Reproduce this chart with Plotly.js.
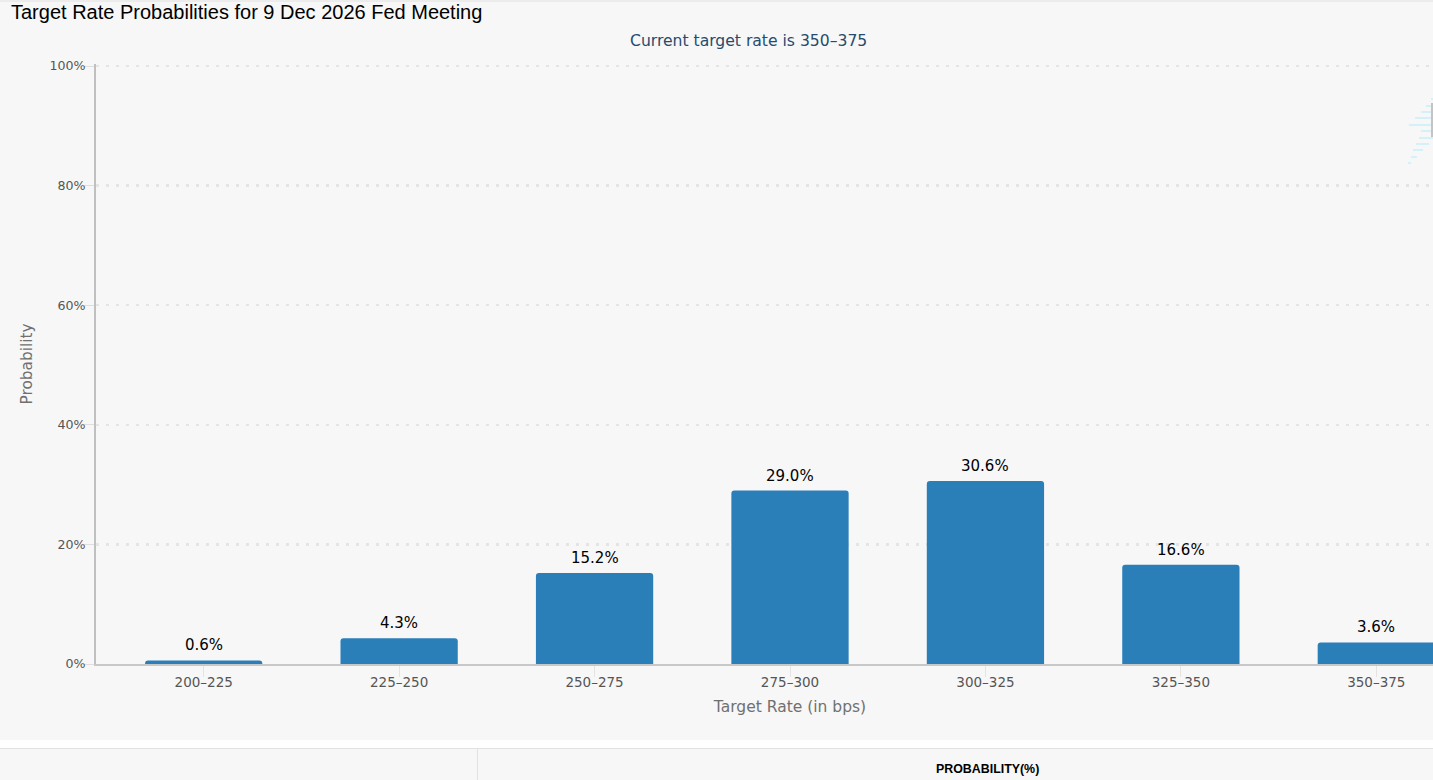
<!DOCTYPE html>
<html><head><meta charset="utf-8">
<script src="https://cdn.plot.ly/plotly-3.0.1.min.js"></script>
<style>html,body{margin:0;padding:0;background:#fff;overflow:hidden;width:1433px;height:780px}#c{width:1500px;height:780px}</style>
</head><body><div id="c"></div>
<script>
const categories = ['200–225','225–250','250–275','275–300','300–325','325–350','350–375'];
const probabilities = [0.6,4.3,15.2,29.0,30.6,16.6,3.6];
const valueLabels = ['0.6%','4.3%','15.2%','29.0%','30.6%','16.6%','3.6%'];
const yTicks = [0,20,40,60,80,100];
const yTickLabels = ['0%','20%','40%','60%','80%','100%'];
const W=1500,H=780,L=96,T=64,PW=1388,PH=600;
const chartFont='"DejaVu Sans", sans-serif';
const sansFont='"Liberation Sans", Arial, sans-serif';
function px(x){return (x-L)/PW}
function py(y){return 1-(y-T)/PH}
function rect(x0,y0,x1,y1,fill,layer){return {type:'rect',xref:'paper',yref:'paper',x0:px(x0),x1:px(x1),y0:py(y1),y1:py(y0),fillcolor:fill,line:{width:0},layer:layer||'below'}}
function vline(x,y0,y1,c){return {type:'line',xref:'paper',yref:'paper',x0:px(x),x1:px(x),y0:py(y0),y1:py(y1),line:{color:c,width:1},layer:'below'}}
function hline(x0,x1,y,c,w){return {type:'line',xref:'paper',yref:'paper',x0:px(x0),x1:px(x1),y0:py(y),y1:py(y),line:{color:c,width:w||1},layer:'below'}}
const shapes=[
  rect(0,2,W,740,'#f7f7f7'),
  rect(0,0,W,2,'#ececec'),
  rect(0,749,W,780,'#f7f7f7'),
  hline(0,W,748.5,'#e2e2e2'),
  vline(477.5,749,780,'#e2e2e2')
];
// faint loading-spinner artefact at the right edge of the screenshot
[[1431,1433,99],[1426,1433,106],[1421,1433,112],[1415,1433,118],[1409,1433,125],[1421,1433,131],
 [1419,1433,138],[1416,1429,144],[1413,1423,150],[1411,1417,157],[1408,1411,163]]
 .forEach(s=>shapes.push(hline(s[0],s[1],s[2],'#d2f1f8',2)));
shapes.push(rect(1431,103,1433,137,'#c4c4c4'));
const trace={type:'bar',x:categories,y:probabilities,width:0.6,
  marker:{color:'#2a7fb8',cornerradius:3,line:{width:0}},
  hoverinfo:'x+y'};
const valueAnn=categories.map((c,i)=>({xref:'x',yref:'y',x:c,y:probabilities[i],yshift:15,xanchor:'center',yanchor:'middle',
  showarrow:false,text:valueLabels[i],font:{family:chartFont,size:15,color:'#000'}}));
const layout={width:W,height:H,autosize:false,
  margin:{l:L,r:W-L-PW,t:T,b:H-T-PH,pad:0},
  paper_bgcolor:'#fff',plot_bgcolor:'rgba(0,0,0,0)',showlegend:false,shapes:shapes,
  font:{family:chartFont},
  xaxis:{type:'category',range:[-0.551,6.551],categoryorder:'array',categoryarray:categories,
    showgrid:false,ticks:'outside',ticklen:11,tickcolor:'#e4e4e4',tickwidth:1,ticklabelstandoff:-6,
    showline:true,linecolor:'#c8c8c8',linewidth:1.5,zeroline:false,
    tickfont:{family:chartFont,size:13.5,color:'#555'},
    title:{text:'Target Rate (in bps)',font:{family:chartFont,size:15.5,color:'#707070'},standoff:12}},
  yaxis:{range:[0,100.334],tickvals:yTicks,ticktext:yTickLabels,
    showgrid:true,gridcolor:'#e4e4e4',gridwidth:2.5,griddash:'3px,7px',
    ticks:'outside',ticklen:10,tickcolor:'#dedede',tickwidth:1,ticklabelstandoff:-4,
    showline:true,linecolor:'#c0c0c0',linewidth:2,zeroline:false,
    tickfont:{family:chartFont,size:12.6,color:'#555'},
    title:{text:'Probability',font:{family:chartFont,size:15.3,color:'#707070'},standoff:13}},
  annotations:[
    {xref:'paper',yref:'paper',x:px(9),y:py(12),xanchor:'left',yanchor:'middle',showarrow:false,
     text:'Target Rate Probabilities for 9 Dec 2026 Fed Meeting',font:{family:sansFont,size:20,color:'#000'}},
    {xref:'paper',yref:'paper',x:px(748),y:py(41.5),xanchor:'center',yanchor:'middle',showarrow:false,
     text:'Current target rate is 350–375',font:{family:chartFont,size:15.6,color:'#274b6d'}},
    {xref:'paper',yref:'paper',x:px(987.5),y:py(769),xanchor:'center',yanchor:'middle',showarrow:false,
     text:'<b>PROBABILITY(%)</b>',font:{family:sansFont,size:12.4,color:'#000'}}
  ].concat(valueAnn)};
Plotly.newPlot('c',[trace],layout,{displayModeBar:false,staticPlot:true});
</script></body></html>
